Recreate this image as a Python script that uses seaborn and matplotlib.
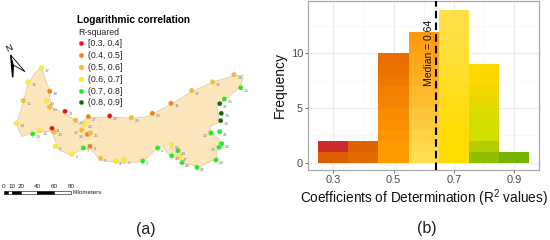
import numpy as np
import pandas as pd
import matplotlib
matplotlib.use('Agg')
import matplotlib.pyplot as plt
import seaborn as sns

# map data (units are 1/3 px of the left half)
outline_x = [125, 132, 140, 148, 150, 160, 195, 225, 240, 262, 300, 330, 395, 440, 510, 575, 640, 700, 730,
             725, 715, 680, 650, 655, 660, 630, 635, 660, 650, 650, 600, 550, 540, 510, 490, 470, 430,
             370, 300, 270, 250, 215, 175, 165, 155, 120, 95, 65, 50, 70, 85, 105]
outline_y = [200, 225, 250, 270, 300, 325, 340, 360, 372, 352, 352, 350, 355, 350, 315, 275, 245, 228, 225,
             250, 265, 295, 320, 345, 365, 380, 400, 420, 450, 475, 500, 490, 475, 470, 440, 445, 485,
             490, 480, 445, 445, 465, 450, 420, 395, 395, 400, 410, 372, 305, 250, 220]

station_id = list(range(1, 51))
station_x = [473, 428, 372, 348, 302, 216, 250, 270, 166, 162, 156, 119, 98, 49, 70, 84, 125, 149, 140, 149,
             195, 227, 245, 262, 271, 254, 265, 329, 394, 457, 513, 575, 638, 702, 722, 673, 659, 664, 662, 633,
             659, 665, 657, 648, 591, 546, 540, 515, 534, 514]
station_y = [444, 483, 479, 484, 475, 462, 444, 439, 439, 396, 385, 392, 402, 370, 302, 246, 204, 274, 302, 321,
             334, 361, 390, 403, 399, 372, 350, 348, 353, 340, 310, 272, 246, 224, 263, 297, 311, 340, 362, 399,
             395, 431, 442, 480, 502, 488, 471, 467, 452, 434]
station_class = ['(0.7, 0.8]', '(0.7, 0.8]', '(0.6, 0.7]', '(0.6, 0.7]', '(0.5, 0.6]', '(0.6, 0.7]', '(0.7, 0.8]',
                 '(0.4, 0.5]', '(0.6, 0.7]', '(0.5, 0.6]', '[0.3, 0.4]', '(0.6, 0.7]', '(0.7, 0.8]', '(0.6, 0.7]',
                 '(0.5, 0.6]', '(0.6, 0.7]', '(0.6, 0.7]', '(0.4, 0.5]', '(0.6, 0.7]', '(0.5, 0.6]', '[0.3, 0.4]',
                 '(0.5, 0.6]', '(0.5, 0.6]', '(0.4, 0.5]', '(0.5, 0.6]', '(0.6, 0.7]', '(0.4, 0.5]', '[0.3, 0.4]',
                 '(0.5, 0.6]', '(0.4, 0.5]', '(0.4, 0.5]', '(0.5, 0.6]', '(0.5, 0.6]', '(0.5, 0.6]', '(0.7, 0.8]',
                 '(0.7, 0.8]', '(0.8, 0.9]', '(0.8, 0.9]', '(0.8, 0.9]', '(0.7, 0.8]', '(0.7, 0.8]', '(0.7, 0.8]',
                 '(0.7, 0.8]', '(0.7, 0.8]', '(0.7, 0.8]', '(0.7, 0.8]', '(0.6, 0.7]', '(0.7, 0.8]', '(0.7, 0.8]',
                 '(0.6, 0.7]']
class_names = ['[0.3, 0.4]', '(0.4, 0.5]', '(0.5, 0.6]', '(0.6, 0.7]', '(0.7, 0.8]', '(0.8, 0.9]']
class_colors = ['#fb0a0a', '#f5820f', '#fbb92e', '#fff01a', '#1cf01c', '#0a6a0e']
labels_left = [23, 24, 40, 43]

# histogram data
bin_centers = [0.3, 0.4, 0.5, 0.6, 0.7, 0.8, 0.9]
bin_counts = [2, 2, 10, 12, 14, 9, 1]
median_r2 = 0.64
# colour of every stacked unit, bottom to top
bin_colors = [
    ['#dd5f00', '#cc2b2b'],
    ['#e36a00', '#df6300'],
    ['#ff9d00', '#ff9a00', '#fc9500', '#fa9000', '#f78c00', '#f58500', '#f27f00', '#ef7800', '#ec7200', '#e86c00'],
    ['#ffdf50', '#ffd94a', '#ffd244', '#ffcb3e', '#ffc538', '#ffbe32', '#ffb82c', '#ffb126', '#ffab20', '#ffa51a',
     '#ff9f14', '#ff9a10'],
    ['#ffdb00', '#ffdb00', '#ffdb00', '#ffdc06', '#ffdc0c', '#ffdc14', '#ffdd1c', '#ffde24', '#ffde2c', '#ffdf34',
     '#ffdf3a', '#ffe040', '#ffe044', '#ffe048'],
    ['#8fbe00', '#b3cc00', '#d2de00', '#d2de00', '#dbdc00', '#e6d800', '#f0d800', '#fbd800', '#ffd800'],
    ['#72b400'],
]

sns.set_theme(style='white')
plt.rcParams['font.family'] = ['Liberation Sans', 'DejaVu Sans']
plt.rcParams['mathtext.default'] = 'regular'

fig = plt.figure(figsize=(5.5, 2.4), dpi=100)

# (a) map
ax_map = fig.add_axes([0, 0, 0.5, 1])
ax_map.set_xlim(0, 825)
ax_map.set_ylim(720, 0)
ax_map.axis('off')
ax_map.fill(outline_x, outline_y, facecolor='#fde6bb', edgecolor='#cfc0a0', linewidth=0.4)

stations = pd.DataFrame({'x': station_x, 'y': station_y, 'R-squared': station_class})
sns.scatterplot(data=stations, x='x', y='y', hue='R-squared', hue_order=class_names,
                palette=class_colors, s=12, edgecolor='#d8c898', linewidth=0.25, ax=ax_map, zorder=3)
for i, x, y in zip(station_id, station_x, station_y):
    if i in labels_left:
        ax_map.text(x - 10, y + 12, str(i), fontsize=3.2, color='#808080', ha='right')
    else:
        ax_map.text(x + 10, y + 12, str(i), fontsize=3.2, color='#808080')

leg = ax_map.legend(title='R-squared', loc='upper left', bbox_to_anchor=(0.2836, 0.885), frameon=False,
                    fontsize=6.3, title_fontsize=6.3, labelspacing=0.32, handlelength=0.7, handletextpad=0.45,
                    alignment='left', borderpad=0, borderaxespad=0)
ax_map.text(232, 60, 'Logarithmic correlation', fontsize=7.3, fontweight='bold', color='black', va='center')

# north arrow
ax_map.fill([32, 38, 40], [165, 232, 195], color='black')
ax_map.fill([32, 75, 40], [165, 215, 195], facecolor='white', edgecolor='black', linewidth=0.6)
ax_map.text(26, 144, 'N', fontsize=6.5, rotation=25, ha='center', va='center', color='black')

# scale bar
scale_km = [0, 5, 10, 20, 40, 60, 80]
scale_pos = [11, 24, 37, 62, 112, 163, 213]
for j in range(len(scale_km) - 1):
    ax_map.fill([scale_pos[j], scale_pos[j + 1], scale_pos[j + 1], scale_pos[j]], [573, 573, 581, 581],
                facecolor='black' if j % 2 == 0 else 'white', edgecolor='black', linewidth=0.4)
for km, pos in zip(scale_km, scale_pos):
    if km != 5:
        ax_map.text(pos, 558, str(km), fontsize=4.5, ha='center', va='center', color='#222222')
ax_map.text(218, 576, 'Kilometers', fontsize=4.5, va='center', color='#222222')
ax_map.text(438, 688, '(a)', fontsize=11.5, ha='center', va='center', color='#222222')

# (b) histogram
ax = fig.add_axes([308 / 550, 70 / 240, 231 / 550, 169 / 240])
rows = []
for center, count, colors in zip(bin_centers, bin_counts, bin_colors):
    for k in range(count):
        rows.append({'r2': center, 'unit': f'{center}-{k}', 'color': colors[k]})
hist_df = pd.DataFrame(rows)
# seaborn stacks the last hue level at the bottom, so keep the levels reversed
unit_order = hist_df['unit'].tolist()[::-1]
unit_palette = dict(zip(hist_df['unit'], hist_df['color']))
sns.histplot(data=hist_df, x='r2', hue='unit', hue_order=unit_order, palette=unit_palette, multiple='stack',
             binwidth=0.1, binrange=(0.25, 0.95), alpha=1, linewidth=0, legend=False, ax=ax, zorder=2)

ax.set_xlim(0.216, 0.983)
ax.set_ylim(-0.67, 14.8)
ax.set_xticks([0.3, 0.5, 0.7, 0.9])
ax.set_xticklabels(['0.3', '0.5', '0.7', '0.9'])
ax.set_yticks([0, 5, 10])
ax.set_xticks([0.4, 0.6, 0.8], minor=True)
ax.set_yticks([2.5, 7.5, 12.5], minor=True)
ax.grid(True, which='major', color='#ebebeb', linewidth=0.8, zorder=0)
ax.grid(True, which='minor', color='#f4f4f4', linewidth=0.5, zorder=0)
ax.set_axisbelow(True)
ax.tick_params(axis='both', which='major', labelsize=8, labelcolor='#4d4d4d', length=2, width=0.6,
               color='#555555', pad=1.5, bottom=True, left=True)
ax.tick_params(axis='both', which='minor', length=0)
for spine in ax.spines.values():
    spine.set_color('#a8a8a8')
    spine.set_linewidth(0.9)
ax.set_xlabel('Coefficients of Determination (R$^2$ values)', fontsize=9.8, color='#111111', labelpad=2)
ax.set_ylabel('Frequency', fontsize=10, color='#111111', labelpad=3)

ax.axvline(median_r2, color='black', linestyle=(0, (3.6, 2)), linewidth=1.5, zorder=4)
ax.text(0.618, 10, f'Median = {median_r2}', rotation=90, fontsize=7.5, ha='center', va='center',
        color='#111111', zorder=5)
fig.text(427 / 550, 1 - 229 / 240, '(b)', fontsize=11.5, ha='center', va='center', color='#222222')

fig.savefig('out.png', dpi=100)
